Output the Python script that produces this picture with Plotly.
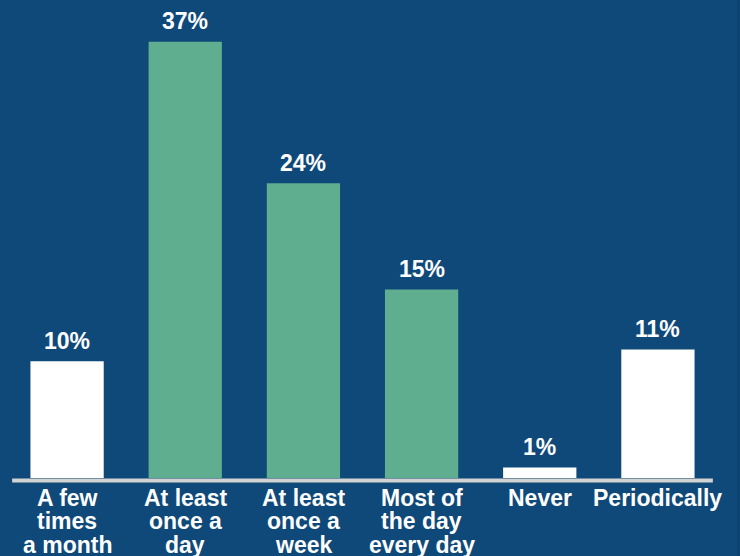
import plotly.graph_objects as go

categories = [["A few", "times", "a month"], ["At least", "once a", "day"], ["At least", "once a", "week"],
              ["Most of", "the day", "every day"], ["Never"], ["Periodically"]]
values = [9.9, 37.0, 25.0, 16.0, 0.9, 10.9]
labels = ["10%", "37%", "24%", "15%", "1%", "11%"]
colors = ["#ffffff", "#5eae8f", "#5eae8f", "#5eae8f", "#ffffff", "#ffffff"]

BG = "#0f497a"
FONT = "Liberation Sans, Arial, sans-serif"
PLOT_W = 740 - 8 - 23
PLOT_H = 556 - 10 - 78

fig = go.Figure(go.Bar(
    x=list(range(len(categories))), y=values,
    marker=dict(color=colors, line=dict(width=0)),
    width=0.62,
    hoverinfo="skip",
))

for i, (v, t) in enumerate(zip(values, labels)):
    fig.add_annotation(x=i, y=v, text=t, showarrow=False, yanchor="bottom", yshift=5.5,
                       font=dict(family=FONT, size=23, color="white", weight="bold"))

for i, lines in enumerate(categories):
    for k, line in enumerate(lines):
        fig.add_annotation(x=i, xref="x", y=0, yref="paper", text=line, showarrow=False,
                           yanchor="middle", yshift=-19.7 - 23.5 * k,
                           font=dict(family=FONT, size=23, color="white", weight="bold"))

fig.add_shape(type="line", xref="x", yref="paper", x0=-0.465, x1=5.465,
              y0=-2.5 / PLOT_H, y1=-2.5 / PLOT_H, line=dict(color="#d3d3d3", width=4))
fig.add_shape(type="rect", xref="paper", yref="paper", x0=(737 - 8) / PLOT_W, x1=(742 - 8) / PLOT_W,
              y0=-80 / PLOT_H, y1=1 + 12 / PLOT_H, line=dict(width=0), fillcolor="#0c4373", layer="below")

fig.update_layout(
    width=740, height=556,
    margin=dict(l=8, r=23, t=10, b=78),
    paper_bgcolor=BG, plot_bgcolor=BG,
    showlegend=False,
    xaxis=dict(range=[-0.5, 5.5], showticklabels=False, showgrid=False, zeroline=False,
               showline=False, ticks="", automargin=False, fixedrange=True),
    yaxis=dict(range=[0, 39.7], visible=False, showgrid=False, zeroline=False, automargin=False),
)

fig.write_html("out.html")
